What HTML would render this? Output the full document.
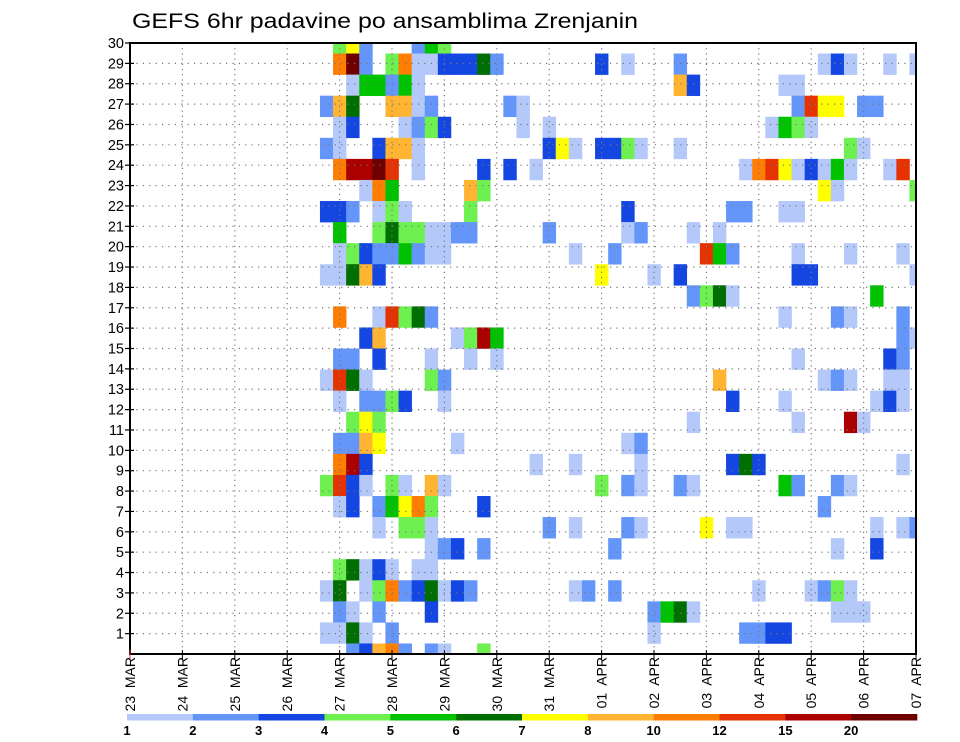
<!DOCTYPE html>
<html><head><meta charset="utf-8"><title>GEFS 6hr padavine</title>
<style>
html,body{margin:0;padding:0;background:#fff;}
svg{display:block;font-family:"Liberation Sans",sans-serif;}
</style></head>
<body>
<svg id="chart" width="960" height="742" viewBox="0 0 960 742" xmlns="http://www.w3.org/2000/svg">
<defs><clipPath id="plotclip"><rect x="130" y="43" width="786" height="611"/></clipPath></defs>
<rect x="0" y="0" width="960" height="742" fill="#fff"/>
<text x="132" y="28" font-size="21" textLength="506" lengthAdjust="spacingAndGlyphs" fill="#000">GEFS 6hr padavine po ansamblima Zrenjanin</text>
<g id="cells" clip-path="url(#plotclip)"></g>
<g id="grid"></g>
<rect x="130" y="43" width="786" height="611" fill="none" stroke="#000" stroke-width="2"/>
<g id="yaxis"></g>
<g id="xaxis"></g>
<g id="legend"></g>
</svg>
<script>
// ---- data ----
const dayLabels = ["23  MAR","24  MAR","25  MAR","26  MAR","27  MAR","28  MAR","29  MAR","30  MAR","31  MAR","01  APR","02  APR","03  APR","04  APR","05  APR","06  APR","07  APR"];
const yTickLabels = [1,2,3,4,5,6,7,8,9,10,11,12,13,14,15,16,17,18,19,20,21,22,23,24,25,26,27,28,29,30];
const legendLevels = [1,2,3,4,5,6,7,8,10,12,15,20];
const legendColors = ["#b4c8fa","#6496fa","#1446e1","#6ef050","#00c300","#006e00","#ffff00","#ffb432","#ff7d00","#e63200","#aa0000","#6e0000"];
// each member row (top to bottom): [6h step from 27 MAR 00Z, precipitation mm]
const member01 = [[0,4.5],[1,7.5],[2,2.5],[6,2.5],[7,5.5],[8,4.5]];
const member02 = [[0,11],[1,22],[2,2.5],[4,4.5],[5,11],[6,1.5],[7,1.5],[8,3.5],[9,3.5],[10,3.5],[11,6.5],[12,2.5],[20,3.5],[22,1.5],[26,2.5],[37,1.5],[38,3.5],[39,1.5],[42,1.5],[44,1.5]];
const member03 = [[1,1.5],[2,5.5],[3,5.5],[4,2.5],[5,5.5],[6,1.5],[26,9],[27,3.5],[34,1.5],[35,1.5]];
const member04 = [[-1,2.5],[0,9],[1,6.5],[4,9],[5,9],[6,1.5],[7,2.5],[13,2.5],[14,1.5],[35,2.5],[36,13],[37,7.5],[38,7.5],[40,2.5],[41,2.5]];
const member05 = [[0,1.5],[1,3.5],[5,1.5],[6,2.5],[7,4.5],[8,3.5],[14,1.5],[16,1.5],[33,1.5],[34,5.5],[35,4.5],[36,1.5]];
const member06 = [[-1,2.5],[0,1.5],[3,3.5],[4,9],[5,9],[6,1.5],[16,3.5],[17,7.5],[18,1.5],[20,3.5],[21,3.5],[22,4.5],[23,1.5],[26,1.5],[39,4.5],[40,1.5]];
const member07 = [[0,11],[1,17],[2,17],[3,22],[4,13],[6,1.5],[11,3.5],[13,3.5],[15,1.5],[31,1.5],[32,11],[33,13],[34,7.5],[35,1.5],[36,3.5],[37,1.5],[38,5.5],[39,1.5],[42,1.5],[43,13]];
const member08 = [[2,1.5],[3,11],[4,5.5],[10,9],[11,4.5],[37,7.5],[38,1.5],[44,4.5]];
const member09 = [[-1,3.5],[0,3.5],[1,2.5],[3,1.5],[4,4.5],[5,1.5],[10,4.5],[22,3.5],[30,2.5],[31,2.5],[34,1.5],[35,1.5]];
const member10 = [[0,5.5],[3,4.5],[4,6.5],[5,4.5],[6,4.5],[7,1.5],[8,1.5],[9,2.5],[10,2.5],[16,2.5],[22,1.5],[23,2.5],[27,1.5],[29,1.5]];
const member11 = [[0,1.5],[1,4.5],[2,3.5],[3,2.5],[4,2.5],[5,5.5],[6,2.5],[7,1.5],[8,1.5],[18,1.5],[21,2.5],[28,13],[29,5.5],[30,2.5],[35,1.5],[39,1.5],[43,1.5]];
const member12 = [[-1,1.5],[0,1.5],[1,6.5],[2,9],[3,3.5],[20,7.5],[24,1.5],[26,3.5],[35,3.5],[36,3.5],[44,1.5]];
const member13 = [[27,2.5],[28,4.5],[29,6.5],[30,1.5],[41,5.5]];
const member14 = [[0,11],[3,1.5],[4,13],[5,4.5],[6,6.5],[7,2.5],[34,1.5],[38,2.5],[39,1.5],[43,2.5]];
const member15 = [[2,3.5],[3,9],[9,1.5],[10,4.5],[11,17],[12,5.5],[43,2.5],[44,1.5]];
const member16 = [[0,2.5],[1,2.5],[3,3.5],[7,1.5],[10,1.5],[12,1.5],[35,1.5],[42,3.5],[43,2.5]];
const member17 = [[-1,1.5],[0,13],[1,6.5],[2,1.5],[7,4.5],[8,2.5],[29,9],[37,1.5],[38,2.5],[39,1.5],[42,1.5],[43,1.5]];
const member18 = [[0,1.5],[2,2.5],[3,2.5],[4,4.5],[5,3.5],[8,1.5],[30,3.5],[34,1.5],[41,1.5],[42,3.5],[43,1.5]];
const member19 = [[1,4.5],[2,7.5],[3,4.5],[27,1.5],[35,1.5],[39,17],[40,1.5]];
const member20 = [[0,2.5],[1,2.5],[2,9],[3,7.5],[9,1.5],[22,1.5],[23,2.5]];
const member21 = [[0,11],[1,17],[2,3.5],[15,1.5],[18,1.5],[23,1.5],[30,3.5],[31,6.5],[32,3.5],[43,1.5]];
const member22 = [[-1,4.5],[0,13],[1,3.5],[2,1.5],[4,4.5],[5,1.5],[7,9],[8,1.5],[20,4.5],[22,2.5],[23,1.5],[26,2.5],[27,1.5],[34,5.5],[35,2.5],[38,2.5],[39,1.5]];
const member23 = [[0,1.5],[1,3.5],[3,2.5],[4,5.5],[5,7.5],[6,11],[7,4.5],[11,3.5],[37,2.5]];
const member24 = [[3,1.5],[5,4.5],[6,4.5],[7,1.5],[16,2.5],[18,1.5],[22,2.5],[23,1.5],[28,7.5],[30,1.5],[31,1.5],[41,1.5],[43,1.5],[44,2.5]];
const member25 = [[7,1.5],[8,2.5],[9,3.5],[11,2.5],[21,2.5],[38,1.5],[41,3.5]];
const member26 = [[0,4.5],[1,6.5],[2,1.5],[3,3.5],[4,1.5],[6,1.5],[7,1.5]];
const member27 = [[-1,1.5],[0,6.5],[2,1.5],[3,4.5],[4,11],[5,2.5],[6,3.5],[7,6.5],[8,1.5],[9,3.5],[10,2.5],[18,1.5],[19,2.5],[21,2.5],[32,1.5],[36,1.5],[37,2.5],[38,4.5],[39,1.5]];
const member28 = [[0,2.5],[1,1.5],[3,2.5],[7,3.5],[24,2.5],[25,5.5],[26,6.5],[27,1.5],[38,1.5],[39,1.5],[40,1.5]];
const member29 = [[-1,1.5],[0,1.5],[1,6.5],[2,1.5],[4,2.5],[24,1.5],[31,2.5],[32,2.5],[33,3.5],[34,3.5]];
const member30 = [[1,2.5],[2,3.5],[3,9],[4,11],[5,2.5],[7,2.5],[8,1.5],[11,4.5]];
const members = [member01,member02,member03,member04,member05,member06,member07,member08,member09,member10,member11,member12,member13,member14,member15,member16,member17,member18,member19,member20,member21,member22,member23,member24,member25,member26,member27,member28,member29,member30];

// ---- geometry / scales ----
const NS = "http://www.w3.org/2000/svg";
const PL = 130, PR = 916, PT = 43, PB = 654;
const dayW = (PR - PL) / 15;
const stepW = dayW / 4;
const rowH = (PB - PT) / 29;
const labelH = (PB - PT) / 30;
function xStep(c){ return PL + 4*dayW + c*stepW; }
function yMember(k){ return PT + k*rowH; }
function yLabel(v){ return PB - v*labelH; }
function colorFor(v){
  let idx = -1;
  for (let i=0;i<legendLevels.length;i++){ if (v >= legendLevels[i]) idx = i; }
  return idx < 0 ? null : legendColors[idx];
}
function mk(tag, attrs, parent){
  const e = document.createElementNS(NS, tag);
  for (const a in attrs) e.setAttribute(a, attrs[a]);
  parent.appendChild(e);
  return e;
}

// cells
const gCells = document.getElementById("cells");
members.forEach((row, k) => {
  row.forEach(pt => {
    const col = colorFor(pt[1]);
    if (!col) return;
    const r = mk("rect", {x:(xStep(pt[0])-stepW/2).toFixed(2), y:(yMember(k)-rowH/2).toFixed(2), width:(stepW+0.3).toFixed(2), height:(rowH+0.3).toFixed(2), fill:col}, gCells);
    
    
  });
});

// grid
const gGrid = document.getElementById("grid");
for (let i=1;i<15;i++){
  const x = PL + i*dayW;
  const l = mk("line", {x1:x, y1:PT, x2:x, y2:PB, stroke:"#777", "stroke-width":1.2, "stroke-dasharray":"1.2,4"}, gGrid);
  
  
}
for (let v=1; v<30; v++){
  const y = yLabel(v);
  const l = mk("line", {x1:PL, y1:y, x2:PR, y2:y, stroke:"#777", "stroke-width":1.2, "stroke-dasharray":"1.2,5.2"}, gGrid);
  
  
}

// y axis
const gY = document.getElementById("yaxis");
yTickLabels.forEach(v => {
  const y = yLabel(v);
  const t = mk("line", {x1:PL-5, y1:y, x2:PL+4, y2:y, stroke:"#000", "stroke-width":1.2}, gY);
  
  
  const tx = mk("text", {x:PL-6, y:y+5, "font-size":14.5, "text-anchor":"end", fill:"#000"}, gY);
  tx.textContent = v;
  
  
});

// x axis
const gX = document.getElementById("xaxis");
dayLabels.forEach((lab, i) => {
  const x = PL + i*dayW;
  const t = mk("line", {x1:x, y1:PB-4, x2:x, y2:PB+6, stroke: i===0 ? "#d33" : "#000", "stroke-width":1}, gX);
  
  
  const tx = mk("text", {x:0, y:0, "font-size":14, "text-anchor":"end", fill:"#000", transform:"translate("+(x+5)+",657) rotate(-90)"}, gX);
  tx.setAttribute("xml:space","preserve");
  tx.style.whiteSpace = "pre";
  tx.textContent = lab;
  
  
});

// legend
const gL = document.getElementById("legend");
const LX0 = 127, LX1 = 917, segW = (LX1-LX0)/legendColors.length;
legendColors.forEach((c, i) => {
  const r = mk("rect", {x:LX0+i*segW, y:714, width:segW+0.3, height:6.5, fill:c}, gL);
  
  
});
legendLevels.forEach((v, i) => {
  const tx = mk("text", {x:LX0+i*segW, y:735, "font-size":13, "font-weight":"bold", "text-anchor":"middle", fill:"#000"}, gL);
  tx.textContent = v;
  
  
});
</script>
</body></html>
